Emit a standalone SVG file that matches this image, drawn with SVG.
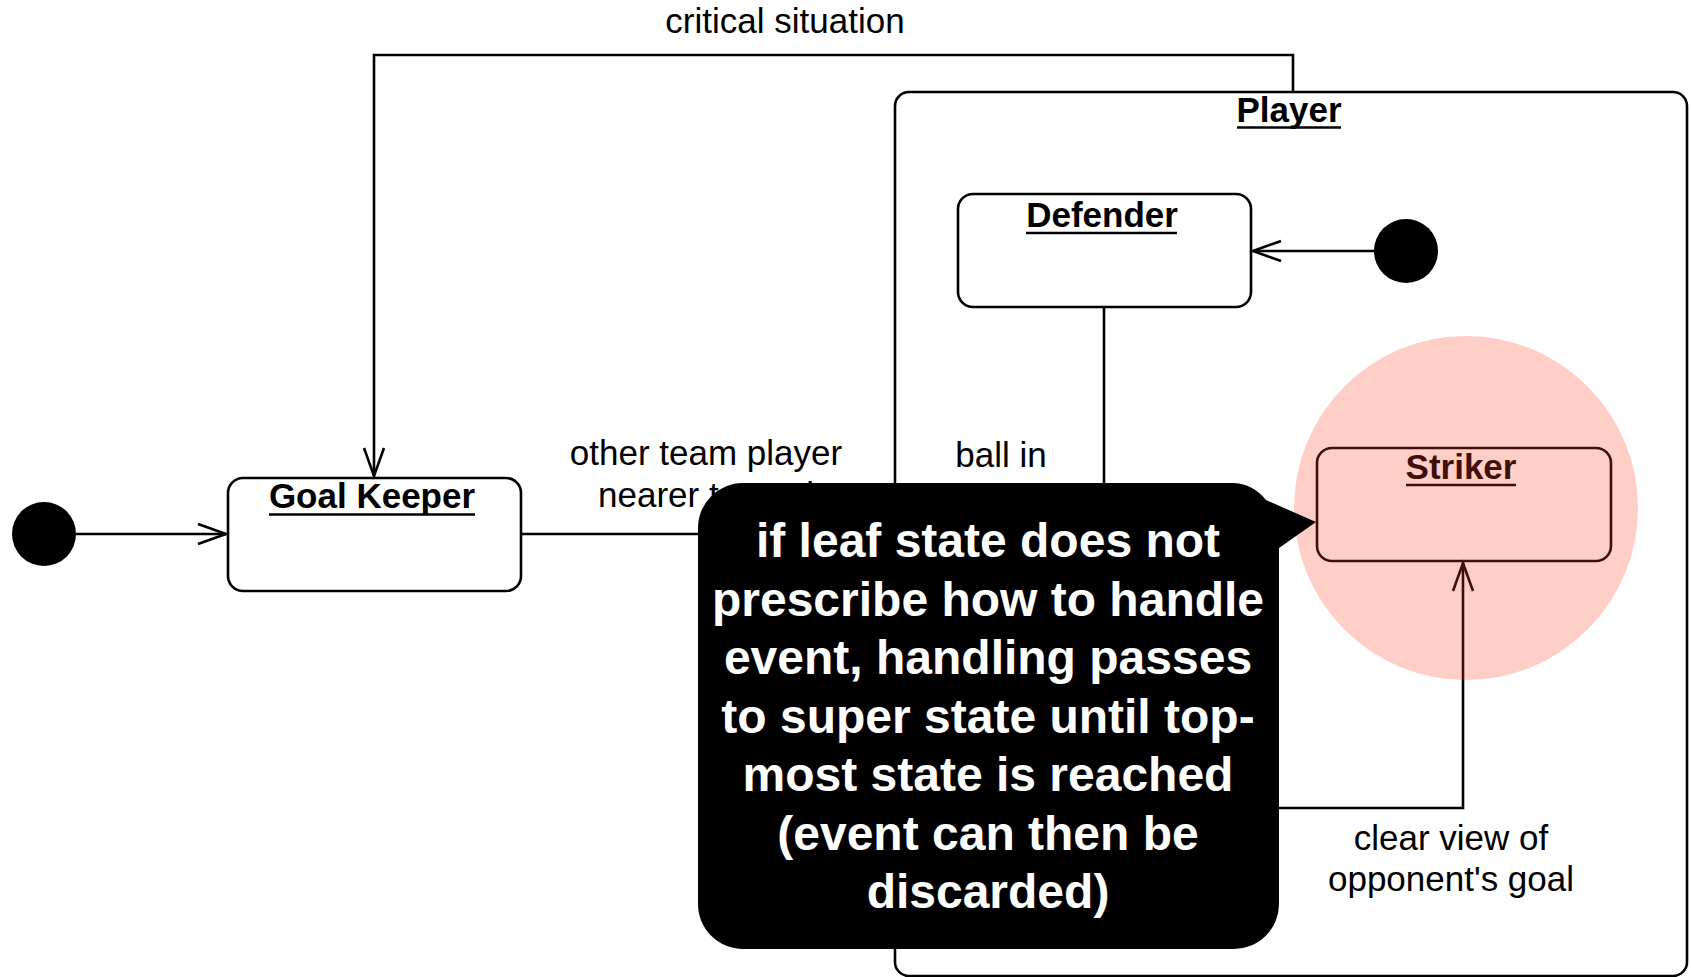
<svg xmlns="http://www.w3.org/2000/svg" width="1691" height="977" viewBox="0 0 1691 977">
  <style>
    .state { fill: #ffffff; stroke: #000000; stroke-width: 2.6; }
    .init { fill: #000000; }
    .title { font-family: "Liberation Sans", Arial, sans-serif; font-size: 35px; font-weight: bold; fill: #000000; text-anchor: middle; }
    .uline { stroke: #000000; stroke-width: 2.6; }
    .edge { fill: none; stroke: #000000; stroke-width: 2.6; }
    .label { font-family: "Liberation Sans", Arial, sans-serif; font-size: 35px; fill: #000000; text-anchor: middle; }
    .note { font-family: "Liberation Sans", Arial, sans-serif; font-size: 48px; font-weight: bold; fill: #ffffff; text-anchor: middle; }
  </style>
  <defs>
    <marker id="open" markerUnits="userSpaceOnUse" markerWidth="40" markerHeight="30" viewBox="-30 -15 40 30" refX="0" refY="0" orient="auto">
      <path d="M-28,-10 L0,0 L-28,10" fill="none" stroke="#000000" stroke-width="2.6"/>
    </marker>
  </defs>

  <rect width="1691" height="977" fill="#ffffff"/>

  <!-- composite state -->
  <g id="player">
    <rect class="state" x="895" y="92" width="792" height="884" rx="14"/>
    <text class="title" x="1289" y="122">Player</text>
    <line class="uline" x1="1237" y1="127.5" x2="1341" y2="127.5"/>
  </g>

  <g id="goal-keeper">
    <rect class="state" x="228" y="478" width="293" height="113" rx="15"/>
    <text class="title" x="372" y="508">Goal Keeper</text>
    <line class="uline" x1="269" y1="514.5" x2="475" y2="514.5"/>
  </g>

  <g id="defender">
    <rect class="state" x="958" y="194" width="293" height="113" rx="15"/>
    <text class="title" x="1102" y="227">Defender</text>
    <line class="uline" x1="1026" y1="233" x2="1177" y2="233"/>
  </g>

  <g id="striker">
    <rect class="state" x="1317" y="448" width="294" height="113" rx="15"/>
    <text class="title" x="1461" y="479">Striker</text>
    <line class="uline" x1="1406" y1="485" x2="1516" y2="485"/>
  </g>

  <g id="initial-outer">
    <circle class="init" cx="44" cy="534" r="32"/>
  </g>

  <g id="initial-inner">
    <circle class="init" cx="1406" cy="251" r="32"/>
  </g>

  <g id="connectors">
    <line class="edge" x1="76" y1="534" x2="226" y2="534" marker-end="url(#open)"/>
    <line class="edge" x1="1374" y1="251" x2="1253" y2="251" marker-end="url(#open)"/>
    <path class="edge" d="M1293,92 V55 H374 V476" marker-end="url(#open)"/>
    <line class="edge" x1="521" y1="534" x2="893" y2="534" marker-end="url(#open)"/>
    <path class="edge" d="M1104,307 V808 H1463 V563" marker-end="url(#open)"/>
    <text class="label" x="785" y="33">critical situation</text>
    <text class="label" x="706" y="465">other team player</text>
    <text class="label" x="706" y="507">nearer to goal</text>
    <text class="label" x="1001" y="467">ball in</text>
    <text class="label" x="1451" y="850">clear view of</text>
    <text class="label" x="1451" y="891">opponent's goal</text>
  </g>

  <!-- highlight over the striker state -->
  <g id="highlight">
    <circle cx="1466" cy="508" r="172" fill="#ff3a20" fill-opacity="0.25"/>
  </g>

  <!-- speech-bubble note -->
  <g id="note">
    <path d="M743,483 H1234 A45,45 0 0 1 1266,500 L1316,522 L1279,548 V904 A45,45 0 0 1 1234,949 H743 A45,45 0 0 1 698,904 V528 A45,45 0 0 1 743,483 Z" fill="#000000"/>
    <text class="note" x="988" y="557">if leaf state does not</text>
    <text class="note" x="988" y="615.5">prescribe how to handle</text>
    <text class="note" x="988" y="674">event, handling passes</text>
    <text class="note" x="988" y="732.5">to super state until top-</text>
    <text class="note" x="988" y="791">most state is reached</text>
    <text class="note" x="988" y="849.5">(event can then be</text>
    <text class="note" x="988" y="908">discarded)</text>
  </g>
</svg>
